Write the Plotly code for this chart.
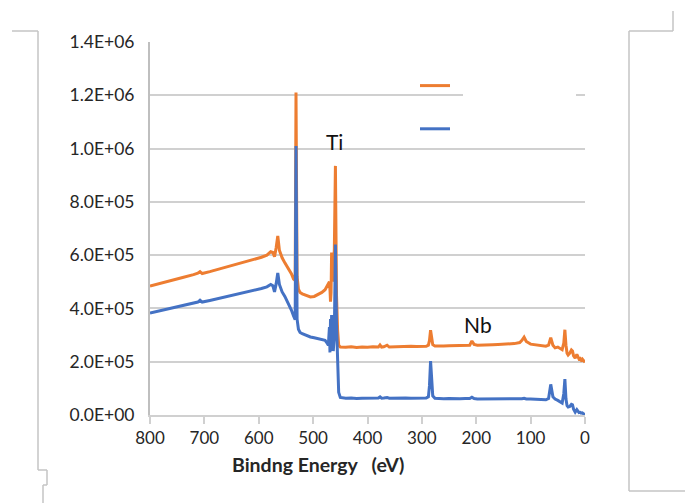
import plotly.graph_objects as go

# ---------------- data ----------------
binding_energy = [800, 780, 760, 740, 720, 712, 708, 704, 690, 670, 650, 630, 610, 595, 585,
                  578, 574, 571, 568, 565, 562, 557, 552, 548, 544, 540, 536, 533, 531.5, 529.5,
                  527, 524, 520, 512, 505, 498, 490, 484, 478, 475, 472, 470, 469, 468, 467,
                  466, 465, 464, 463, 461, 459, 457, 455, 453, 450, 440, 430, 420, 410, 400,
                  390, 380, 377, 374, 370, 364, 360, 350, 340, 330, 320, 310, 300, 292, 288,
                  286, 284, 282, 280, 276, 270, 260, 250, 240, 230, 220, 212, 208, 204, 198,
                  190, 180, 170, 160, 150, 140, 130, 120, 116, 112, 108, 100, 90, 80, 72,
                  67, 63, 59, 55, 50, 45, 42, 39, 37, 35, 33, 31, 28, 25, 23,
                  21, 18, 15, 13, 11, 9, 7, 5, 3, 1, 0]

intensity_orange = [484000, 494000, 505000, 516000, 527000, 532000, 538000, 531000, 538000, 549000,
                    560000, 571000, 582000, 592000, 600000, 613000, 610000, 594000, 628000, 672000,
                    618000, 590000, 571000, 557000, 545000, 530000, 510000, 505000, 1210000, 520000,
                    472000, 460000, 455000, 447000, 443000, 445000, 452000, 460000, 470000, 482000,
                    495000, 500000, 470000, 425000, 460000, 610000, 520000, 500000, 540000, 620000,
                    935000, 450000, 320000, 262000, 255000, 254000, 256000, 253000, 255000, 254000,
                    256000, 255000, 263000, 255000, 256000, 262000, 255000, 256000, 257000, 256000,
                    258000, 257000, 258000, 258000, 262000, 280000, 318000, 285000, 264000, 259000,
                    260000, 259000, 260000, 261000, 260000, 262000, 262000, 278000, 265000, 262000,
                    262000, 263000, 264000, 265000, 266000, 267000, 268000, 272000, 280000, 292000,
                    276000, 266000, 264000, 262000, 258000, 262000, 290000, 262000, 252000, 255000,
                    250000, 245000, 270000, 320000, 262000, 232000, 225000, 232000, 244000, 240000,
                    222000, 213000, 228000, 215000, 210000, 212000, 206000, 210000, 205000, 200000,
                    198000]

intensity_blue = [383000, 392000, 402000, 411000, 420000, 424000, 431000, 424000, 430000, 439000,
                  449000, 458000, 467000, 475000, 481000, 490000, 485000, 462000, 492000, 533000,
                  490000, 462000, 445000, 430000, 412000, 394000, 372000, 358000, 1010000, 360000,
                  322000, 310000, 305000, 298000, 293000, 290000, 286000, 283000, 280000, 272000,
                  262000, 330000, 235000, 360000, 240000, 375000, 250000, 320000, 240000, 300000,
                  640000, 340000, 150000, 85000, 66000, 63000, 64000, 62000, 63000, 64000,
                  63000, 64000, 68000, 63000, 64000, 66000, 63000, 64000, 63000, 64000,
                  63000, 64000, 63000, 64000, 68000, 110000, 202000, 120000, 72000, 63000,
                  62000, 61000, 62000, 61000, 61000, 62000, 62000, 67000, 62000, 60000,
                  60000, 59000, 60000, 60000, 59000, 60000, 60000, 60000, 61000, 63000,
                  60000, 60000, 59000, 58000, 57000, 62000, 115000, 68000, 60000, 55000,
                  50000, 45000, 80000, 135000, 60000, 35000, 30000, 32000, 40000, 38000,
                  22000, 11000, 20000, 12000, 9000, 10000, 7000, 8000, 4000, 1000,
                  0]

y_tick_values = [0, 200000, 400000, 600000, 800000, 1000000, 1200000, 1400000]
y_tick_labels = ["0.0E+00", "2.0E+05", "4.0E+05", "6.0E+05", "8.0E+05", "1.0E+06", "1.2E+06", "1.4E+06"]
x_tick_values = [800, 700, 600, 500, 400, 300, 200, 100, 0]
x_tick_labels = ["800", "700", "600", "500", "400", "300", "200", "100", "0"]
x_axis_title = "<b>Bindng Energy&nbsp;&nbsp; (eV)</b>"

peak_labels = ["Ti", "Nb"]
peak_label_x = [460, 197]
peak_label_y = [1025000, 338000]

# ---------------- layout geometry ----------------
# the page body has an 8px default margin, so the figure is sized/offset for it
BODY = 8
FIG_W, FIG_H = 693 - BODY, 503 - BODY
M_L, M_R, M_T, M_B = 150 - BODY, 108, 42 - BODY, 88
PW = FIG_W - M_L - M_R
PH = FIG_H - M_T - M_B


def pxx(screen_px):
    return (screen_px - BODY - M_L) / PW


def pxy(screen_py):
    return (FIG_H - M_B - (screen_py - BODY)) / PH


ORANGE = "#ED7D31"
BLUE = "#4472C4"
GRID = "#d0d0d0"
TXT = "#262626"
FONT = "Lato, 'Open Sans', sans-serif"

fig = go.Figure()
fig.add_trace(go.Scatter(x=binding_energy, y=intensity_orange, mode="lines", name="",
                         line=dict(color=ORANGE, width=3), legendgroup="a"))
fig.add_trace(go.Scatter(x=binding_energy, y=intensity_blue, mode="lines", name="",
                         line=dict(color=BLUE, width=3), legendgroup="b"))

for t, x, y in zip(peak_labels, peak_label_x, peak_label_y):
    fig.add_annotation(x=x, y=y, text=t, showarrow=False,
                       font=dict(family=FONT, size=21, color="#111111"))

# x-axis title (sits left of centre in the original)
fig.add_annotation(xref="paper", yref="paper", x=pxx(318), y=pxy(464),
                   xanchor="center", yanchor="middle", showarrow=False,
                   text=x_axis_title, font=dict(family=FONT, size=19.5, color=TXT))

shapes = []
# white box (empty legend text area) hiding part of a gridline
shapes.append(dict(type="rect", xref="paper", yref="paper", layer="above",
                   x0=pxx(463), x1=pxx(576), y0=pxy(102), y1=pxy(88),
                   fillcolor="white", line=dict(width=0)))
# page-frame decorations
frame_col = "#c4c4c4"
segs = [((12, 31), (38, 31)), ((38, 31), (38, 470)), ((38, 470), (47, 470)),
        ((47, 470), (47, 485)), ((47, 485), (43, 485)), ((43, 485), (43, 503)),
        ((673, 11), (673, 31)), ((673, 31), (629, 31)), ((629, 31), (629, 491)),
        ((629, 491), (693, 491))]
for (a, b) in segs:
    shapes.append(dict(type="line", xref="paper", yref="paper",
                       x0=pxx(a[0]), y0=pxy(a[1]), x1=pxx(b[0]), y1=pxy(b[1]),
                       line=dict(color=frame_col, width=1.5)))

fig.update_layout(
    width=FIG_W, height=FIG_H,
    margin=dict(l=M_L, r=M_R, t=M_T, b=M_B),
    paper_bgcolor="white", plot_bgcolor="white",
    font=dict(family=FONT, size=16, color=TXT),
    showlegend=True,
    legend=dict(x=pxx(415), y=pxy(70), xanchor="left", yanchor="top",
                bgcolor="rgba(0,0,0,0)", traceorder="grouped", tracegroupgap=22,
                font=dict(size=14)),
    shapes=shapes,
    xaxis=dict(range=[800, 0], tickvals=x_tick_values, ticktext=x_tick_labels,
               showgrid=False, zeroline=False, showline=True, linecolor=GRID, linewidth=2,
               ticks="outside", ticklen=7, tickwidth=1.5, tickcolor=GRID,
               tickfont=dict(size=17, color=TXT)),
    yaxis=dict(range=[0, 1400000], tickvals=y_tick_values, ticktext=y_tick_labels,
               showgrid=True, gridcolor=GRID, gridwidth=2, zeroline=False,
               showline=True, linecolor="#bfbfbf", linewidth=2, ticks="",
               ticklabelstandoff=10,
               tickfont=dict(size=17.5, color=TXT)),
)

fig.write_html("out.html")
